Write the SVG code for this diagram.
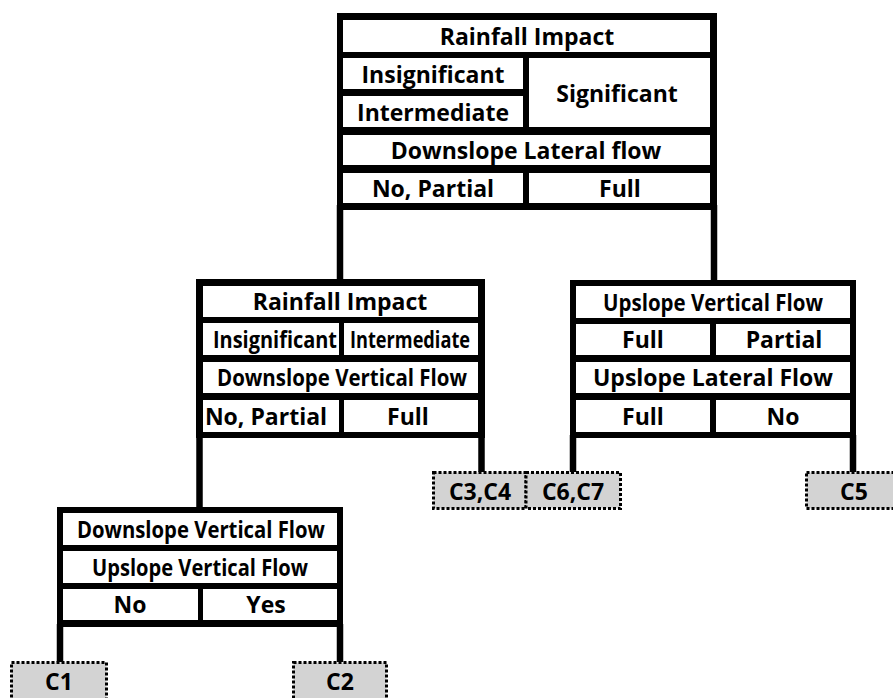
<svg xmlns="http://www.w3.org/2000/svg" width="893" height="698" viewBox="0 0 893 698">
<style>
.frame{fill:#000}
.cell{fill:#fff}
.t{font-family:"Open Sans","Noto Sans","DejaVu Sans",sans-serif;font-weight:700;font-size:23px;fill:#000;text-anchor:middle}
.leaf{fill:#d3d3d3;stroke:#000;stroke-width:3;stroke-dasharray:3 2}
.post{stroke:#000;stroke-width:6.5;fill:none}
</style>
<rect width="893" height="698" fill="#fff"/>
<g id="connectors">
<line class="post" x1="340" y1="205" x2="340" y2="283"/>
<line class="post" x1="714" y1="205" x2="714" y2="283"/>
<line class="post" x1="199.5" y1="435" x2="199.5" y2="510"/>
<line class="post" x1="481.5" y1="435" x2="481.5" y2="472"/>
<line class="post" x1="573" y1="435" x2="573" y2="472"/>
<line class="post" x1="853" y1="435" x2="853" y2="472"/>
<line class="post" x1="60" y1="624" x2="60" y2="662"/>
<line class="post" x1="340" y1="624" x2="340" y2="662"/>
</g>
<g id="node-root">
<rect class="frame" x="337" y="13" width="380" height="197"/>
<rect class="cell" x="343" y="20" width="367" height="32"/>
<rect class="cell" x="343" y="58" width="180" height="31"/>
<rect class="cell" x="343" y="96" width="180" height="31"/>
<rect class="cell" x="529" y="58" width="181" height="69"/>
<rect class="cell" x="343" y="135" width="367" height="30"/>
<rect class="cell" x="343" y="173" width="180" height="30"/>
<rect class="cell" x="529" y="173" width="181" height="30"/>
<text class="t" x="527" y="45">Rainfall Impact</text>
<text class="t" x="433" y="82.5">Insignificant</text>
<text class="t" x="433" y="120.5">Intermediate</text>
<text class="t" x="617" y="101.5">Significant</text>
<text class="t" x="526" y="158.5">Downslope Lateral flow</text>
<text class="t" x="433" y="196.5">No, Partial</text>
<text class="t" x="620" y="196.5">Full</text>
</g>
<g id="node-left">
<rect class="frame" x="196" y="279" width="289" height="159"/>
<rect class="cell" x="203" y="286" width="275" height="31"/>
<rect class="cell" x="203" y="323" width="136" height="32"/>
<rect class="cell" x="344" y="323" width="134" height="32"/>
<rect class="cell" x="203" y="362" width="275" height="31"/>
<rect class="cell" x="203" y="400" width="136" height="32"/>
<rect class="cell" x="344" y="400" width="134" height="32"/>
<text class="t" x="340" y="310">Rainfall Impact</text>
<text class="t" x="275" y="347.5" textLength="124" lengthAdjust="spacingAndGlyphs">Insignificant</text>
<text class="t" x="410" y="347.5" textLength="120" lengthAdjust="spacingAndGlyphs">Intermediate</text>
<text class="t" x="342" y="386" textLength="250" lengthAdjust="spacingAndGlyphs">Downslope Vertical Flow</text>
<text class="t" x="266" y="424.5">No, Partial</text>
<text class="t" x="408" y="424.5">Full</text>
</g>
<g id="node-right">
<rect class="frame" x="570" y="280" width="286" height="158"/>
<rect class="cell" x="576" y="286" width="274" height="32"/>
<rect class="cell" x="576" y="324" width="134" height="31"/>
<rect class="cell" x="716" y="324" width="134" height="31"/>
<rect class="cell" x="576" y="362" width="274" height="31"/>
<rect class="cell" x="576" y="400" width="134" height="32"/>
<rect class="cell" x="716" y="400" width="134" height="32"/>
<text class="t" x="713" y="310.5" textLength="220" lengthAdjust="spacingAndGlyphs">Upslope Vertical Flow</text>
<text class="t" x="643" y="348">Full</text>
<text class="t" x="784" y="348">Partial</text>
<text class="t" x="713" y="386">Upslope Lateral Flow</text>
<text class="t" x="643" y="424.5">Full</text>
<text class="t" x="783" y="424.5">No</text>
</g>
<g id="node-bottom">
<rect class="frame" x="57" y="507" width="286" height="120"/>
<rect class="cell" x="63" y="513" width="274" height="32"/>
<rect class="cell" x="63" y="551" width="274" height="32"/>
<rect class="cell" x="63" y="589" width="135" height="31"/>
<rect class="cell" x="203" y="589" width="134" height="31"/>
<text class="t" x="201" y="537.5" textLength="248" lengthAdjust="spacingAndGlyphs">Downslope Vertical Flow</text>
<text class="t" x="200" y="575.5" textLength="216" lengthAdjust="spacingAndGlyphs">Upslope Vertical Flow</text>
<text class="t" x="130" y="613">No</text>
<text class="t" x="266" y="613">Yes</text>
</g>
<g id="leaf-c34">
<rect class="leaf" x="433.5" y="472.5" width="92.5" height="36"/>
<text class="t" x="480" y="500">C3,C4</text>
</g>
<g id="leaf-c67">
<rect class="leaf" x="526" y="472.5" width="94.5" height="36"/>
<text class="t" x="573" y="500">C6,C7</text>
</g>
<g id="leaf-c5">
<rect class="leaf" x="806.5" y="472.5" width="96" height="36"/>
<text class="t" x="854" y="500">C5</text>
</g>
<g id="leaf-c1">
<rect class="leaf" x="11.5" y="662.5" width="95" height="40"/>
<text class="t" x="59" y="690">C1</text>
</g>
<g id="leaf-c2">
<rect class="leaf" x="293.5" y="662.5" width="93" height="40"/>
<text class="t" x="340" y="690">C2</text>
</g>
</svg>
